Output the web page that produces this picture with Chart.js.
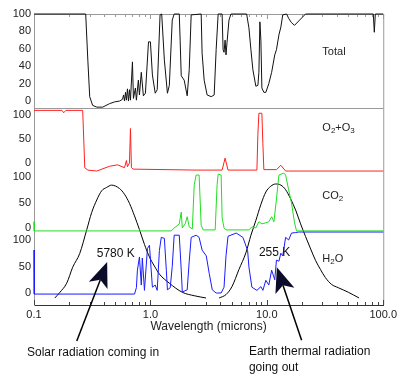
<!DOCTYPE html>
<html><head><meta charset="utf-8">
<script src="https://cdn.jsdelivr.net/npm/chart.js@4.4.1/dist/chart.umd.min.js"></script>
<style>html,body{margin:0;padding:0;background:#fff;}canvas{display:block;}</style>
</head><body>
<canvas id="c" width="400" height="392"></canvas>
<script>
// ---- tick labels ----
const xTickValues = [0.1, 1, 10, 100];
const xTickLabels = ['0.1', '1.0', '10.0', '100.0'];
const totalTicks = [0, 20, 40, 60, 80, 100];
const gasTicks = [0, 50, 100];

// ---- Total absorption (%) vs wavelength (microns) ----
const totalWl = [0.1, 0.278, 0.290, 0.301, 0.319, 0.346, 0.389, 0.446, 0.492, 0.543, 0.576, 0.588, 0.599, 0.611, 0.622, 0.635, 0.648, 0.661, 0.674, 0.701, 0.715, 0.743, 0.758, 0.788, 0.805, 0.835, 0.870, 0.906, 0.963, 1.0, 1.04, 1.10, 1.144, 1.21, 1.25, 1.318, 1.40, 1.454, 1.54, 1.60, 1.77, 1.80, 1.84, 1.95, 2.07, 2.155, 2.24, 2.73, 2.78, 2.896, 3.07, 3.33, 3.53, 3.67, 3.82, 4.13, 4.21, 4.29, 4.38, 4.46, 4.55, 4.73, 4.92, 6.71, 7.02, 7.30, 7.59, 8.05, 8.38, 8.55, 8.72, 8.89, 9.07, 9.43, 9.81, 10.4, 11.0, 11.7, 12.1, 12.7, 13.2, 13.7, 14.8, 15.4, 16.3, 17.3, 18.8, 21.5, 82.2, 83.8, 85.5, 100];
const totalVal = [100, 100, 47, 5, -5, -7, -7, -3, -1, 0, 2, 7, 0, 10, 1, 14, 0, 13, 1, 45, 3, 15, 1, 24, 7, 33, 6, 9, 68, 68, 30, 9, 13, 99, 100, 47, 9, 18, 93, 100, 100, 70, 29, 24, 6, 36, 99, 100, 55, 24, 7, 5, 7, 59, 100, 100, 59, 56, 70, 53, 67, 93, 100, 100, 84, 59, 36, 17, 18, 33, 91, 70, 15, 10, 10, 20, 33, 53, 59, 76, 85, 99, 100, 95, 90, 87, 92, 100, 100, 79, 100, 100];

// ---- O2 + O3 ----
const o3Wl = [0.1, 0.174, 0.180, 0.188, 0.262, 0.273, 0.290, 0.346, 0.446, 0.522, 0.599, 0.622, 0.635, 0.661, 0.674, 0.687, 0.715, 2.47, 4.13, 4.38, 4.64, 8.22, 8.38, 8.55, 9.07, 9.25, 9.43, 12.1, 13.2, 14.5, 15.4, 100];
const o3Val = [110, 110, 105, 110, 110, -10, -15, -17, -7, -4, -10, 5, -8, 0, 72, -10, -13, -15, -15, 10, -15, -15, 60, 104, 104, 40, -14, -14, -5, -17, -17, -17];

// ---- CO2 ----
const co2Wl = [0.1, 0.1005, 1.51, 1.57, 1.77, 1.84, 1.88, 1.99, 2.07, 2.155, 2.29, 2.38, 2.47, 2.62, 2.73, 2.84, 3.60, 3.74, 3.82, 4.05, 4.13, 4.29, 4.46, 7.02, 7.44, 8.05, 8.55, 9.07, 9.81, 10.4, 11.0, 11.5, 12.0, 12.7, 14.0, 14.5, 15.4, 16.3, 17.3, 18.0, 100];
const co2Val = [12, -6, -6, -2, 8, 31, 0, 8, 22, 2, -2, 85, 104, 104, 5, -4, -4, 85, 106, 104, 20, 0, -4, -4, 2, 0, 12, 8, 10, 12, 22, 12, 49, 104, 108, 104, 75, 49, 10, -6, -6];

// ---- H2O ----
const h2oWl = [0.1, 0.1005, 0.730, 0.758, 0.773, 0.805, 0.835, 0.852, 0.889, 0.943, 0.981, 1.04, 1.10, 1.144, 1.194, 1.24, 1.318, 1.37, 1.40, 1.48, 1.54, 1.60, 1.77, 1.84, 1.88, 2.07, 2.155, 2.24, 2.47, 2.62, 2.78, 3.02, 3.20, 3.40, 3.67, 4.05, 4.29, 4.46, 4.64, 5.46, 6.23, 6.84, 7.02, 7.44, 8.22, 8.89, 9.25, 9.81, 10.4, 11.0, 11.7, 12.1, 12.7, 13.2, 13.7, 14.5, 15.4, 16.3, 17.7, 18.8, 100];
const h2oVal = [81, -2, -2, 10, 43, 68, 15, 66, 5, 84, 90, 11, 15, 5, 80, 105, 103, 43, 6, 10, 50, 109, 109, 43, 2, 6, 60, 105, 109, 105, 81, 70, 37, 6, 0, 0, 11, 70, 107, 113, 105, 80, 49, 11, 5, 12, 5, 24, 15, 43, 25, 62, 60, 75, 70, 105, 100, 113, 114, 115, 115];

// ---- Blackbody curves (relative intensity) ----
const solarWl = [0.151, 0.167, 0.191, 0.215, 0.247, 0.284, 0.313, 0.346, 0.381, 0.421, 0.464, 0.543, 0.599, 0.661, 0.730, 0.805, 0.889, 0.981, 1.082, 1.194, 1.454, 1.88, 2.38, 3.0];
const solarVal = [0, 0.05, 0.13, 0.27, 0.39, 0.60, 0.75, 0.86, 0.94, 0.97, 0.99, 0.96, 0.91, 0.83, 0.72, 0.60, 0.47, 0.36, 0.28, 0.21, 0.13, 0.05, 0.02, 0];
const earthWl = [3.89, 4.46, 5.02, 5.76, 6.63, 7.30, 8.05, 8.89, 9.81, 10.8, 11.9, 13.2, 14.5, 16.0, 17.7, 19.5, 21.5, 23.8, 26.2, 28.9, 31.8, 35.9, 41.2, 50.2, 62.0];
const earthVal = [0, 0.03, 0.10, 0.25, 0.40, 0.55, 0.68, 0.82, 0.93, 0.98, 1.0, 0.99, 0.95, 0.87, 0.77, 0.65, 0.54, 0.43, 0.33, 0.25, 0.18, 0.12, 0.09, 0.05, 0];

const FONT = "'Liberation Sans', Arial, Helvetica, sans-serif";
const pts = (xs, ys) => xs.map((x, i) => ({x: x, y: ys[i]}));

function yAxis(min, max, stackW, order, ticks) {
  return {
    type: 'linear', position: 'left', stack: 'panels', stackWeight: stackW, weight: order,
    min: min, max: max,
    afterBuildTicks: s => { s.ticks = ticks.map(v => ({value: v})); },
    afterFit: s => { s.width = 34; },
    grid: { display: true, drawOnChartArea: false, drawTicks: false },
    border: { display: true, color: '#999', width: 1 },
    ticks: { padding: 3, color: '#222', font: {family: FONT, size: 11}, autoSkip: false }
  };
}

function line(data, axis, color, extra) {
  return Object.assign({
    data: data, yAxisID: axis, xAxisID: 'x', borderColor: color, borderWidth: 1,
    pointRadius: 0, fill: false, tension: 0, clip: false
  }, extra || {});
}

function drawRich(ctx, parts, x, y, size) {
  let cx = x;
  for (const p of parts) {
    const sub = p[1];
    ctx.font = (sub ? Math.round(size * 0.72) : size) + 'px ' + FONT;
    ctx.fillText(p[0], cx, sub ? y + 3 : y);
    cx += ctx.measureText(p[0]).width;
  }
}

function arrow(ctx, tail, tip) {
  const dx = tip.x - tail.x, dy = tip.y - tail.y;
  const len = Math.hypot(dx, dy);
  const ux = dx / len, uy = dy / len, px = -uy, py = ux;
  const L = 25, W = 10, N = 6;
  const bx = tip.x - ux * L, by = tip.y - uy * L;
  const nx = tip.x - ux * (L - N), ny = tip.y - uy * (L - N);
  ctx.strokeStyle = '#000'; ctx.lineWidth = 1.5;
  ctx.beginPath(); ctx.moveTo(tail.x, tail.y); ctx.lineTo(nx, ny); ctx.stroke();
  ctx.fillStyle = '#0b0b2a';
  ctx.beginPath();
  ctx.moveTo(tip.x, tip.y);
  ctx.lineTo(bx + px * W, by + py * W);
  ctx.lineTo(nx, ny);
  ctx.lineTo(bx - px * W, by - py * W);
  ctx.closePath(); ctx.fill();
}

const deco = {
  id: 'deco',
  beforeDatasetsDraw(chart) {
    const {ctx, chartArea: a, scales: s} = chart;
    ctx.save();
    ctx.strokeStyle = '#999'; ctx.lineWidth = 1;
    ctx.beginPath();
    ctx.moveTo(a.left, a.top + 0.5); ctx.lineTo(a.right, a.top + 0.5);
    ctx.moveTo(a.right + 0.5, a.top); ctx.lineTo(a.right + 0.5, a.bottom);
    const yb = Math.round(s.yTotal.bottom) + 0.5;
    ctx.moveTo(a.left, yb); ctx.lineTo(a.right, yb);
    ctx.stroke();
    // decade and minor ticks
    const tickVals = [];
    [0.1, 1, 10].forEach(d => { for (let k = 1; k <= 9; k++) tickVals.push([d * k, k === 1]); });
    tickVals.push([100, true]);
    for (const [v, major] of tickVals) {
      const x = Math.round(s.x.getPixelForValue(v)) + 0.5;
      const len = major ? 5 : 3;
      ctx.strokeStyle = '#999';
      ctx.beginPath(); ctx.moveTo(x, a.top); ctx.lineTo(x, a.top + len); ctx.stroke();
      ctx.strokeStyle = '#444';
      ctx.beginPath(); ctx.moveTo(x, a.bottom); ctx.lineTo(x, a.bottom - len); ctx.stroke();
    }
    ctx.restore();
  },
  afterDatasetsDraw(chart) {
    const {ctx, scales: s} = chart;
    const X = v => s.x.getPixelForValue(v);
    ctx.save();
    ctx.fillStyle = '#222';
    ctx.textBaseline = 'middle';
    ctx.textAlign = 'left';
    // panel labels
    const panelLabels = [
      {parts: [['Total']], axis: 'yTotal', x: 30, y: 56},
      {parts: [['O'], ['2', 1], ['+O'], ['3', 1]], axis: 'yO2', x: 30, y: 73},
      {parts: [['CO'], ['2', 1]], axis: 'yCO2', x: 30, y: 63},
      {parts: [['H'], ['2', 1], ['O']], axis: 'yH2O', x: 30, y: 64}
    ];
    for (const l of panelLabels) drawRich(ctx, l.parts, X(l.x), s[l.axis].getPixelForValue(l.y), 11);
    // temperature labels and captions (anchored on wavelength / blackbody scale)
    const B = v => s.bb.getPixelForValue(v);
    ctx.fillStyle = '#111';
    ctx.font = '12px ' + FONT;
    ctx.fillText('5780 K', X(0.346), B(0.386));
    ctx.fillText('255 K', X(8.55), B(0.40));
    ctx.fillText('Solar radiation coming in', X(0.0871), B(-0.48));
    ctx.fillText('Earth thermal radiation', X(7.02), B(-0.47));
    ctx.fillText('going out', X(7.02), B(-0.61));
    // arrows
    arrow(ctx, {x: X(0.233), y: B(-0.377)}, {x: X(0.425), y: B(0.316)});
    arrow(ctx, {x: X(19.9), y: B(-0.37)}, {x: X(12.2), y: B(0.27)});
    ctx.restore();
  }
};

new Chart(document.getElementById('c'), {
  type: 'line',
  data: {
    datasets: [
      line(pts(totalWl, totalVal), 'yTotal', '#111'),
      line(pts(o3Wl, o3Val), 'yO2', '#ff2020'),
      line(pts(co2Wl, co2Val), 'yCO2', '#22dd22'),
      line(pts(h2oWl, h2oVal), 'yH2O', '#1a1aff'),
      line(pts(solarWl, solarVal), 'bb', '#000', {cubicInterpolationMode: 'monotone'}),
      line(pts(earthWl, earthVal), 'bb', '#000', {cubicInterpolationMode: 'monotone'})
    ]
  },
  options: {
    responsive: false, animation: false, events: [], devicePixelRatio: 1,
    layout: { padding: {top: 14, right: 15, bottom: 48, left: 0} },
    plugins: { legend: {display: false}, tooltip: {enabled: false} },
    scales: {
      x: {
        type: 'logarithmic', position: 'bottom', min: 0.1, max: 100,
        afterBuildTicks: sc => { sc.ticks = xTickValues.map(v => ({value: v})); },
        afterFit: sc => { sc.height = 39; },
        grid: { display: true, drawOnChartArea: false, drawTicks: false },
        border: { display: true, color: '#333', width: 1 },
        ticks: { padding: 3, color: '#222', font: {family: FONT, size: 11}, maxRotation: 0, autoSkip: false,
                 callback: (v, i) => xTickLabels[i] },
        title: { display: true, text: 'Wavelength (microns)', color: '#222',
                 font: {family: FONT, size: 12}, padding: {top: 0, bottom: 10} }
      },
      yTotal: yAxis(-8, 100, 94, 4, totalTicks),
      yO2: yAxis(-19, 115, 64, 3, gasTicks),
      yCO2: yAxis(-14, 110, 63, 2, gasTicks),
      yH2O: yAxis(-22.6, 109.4, 70, 1, gasTicks),
      bb: { type: 'linear', position: 'left', display: false, min: -0.0614, max: 2.491 }
    }
  },
  plugins: [deco]
});
</script>
</body></html>
